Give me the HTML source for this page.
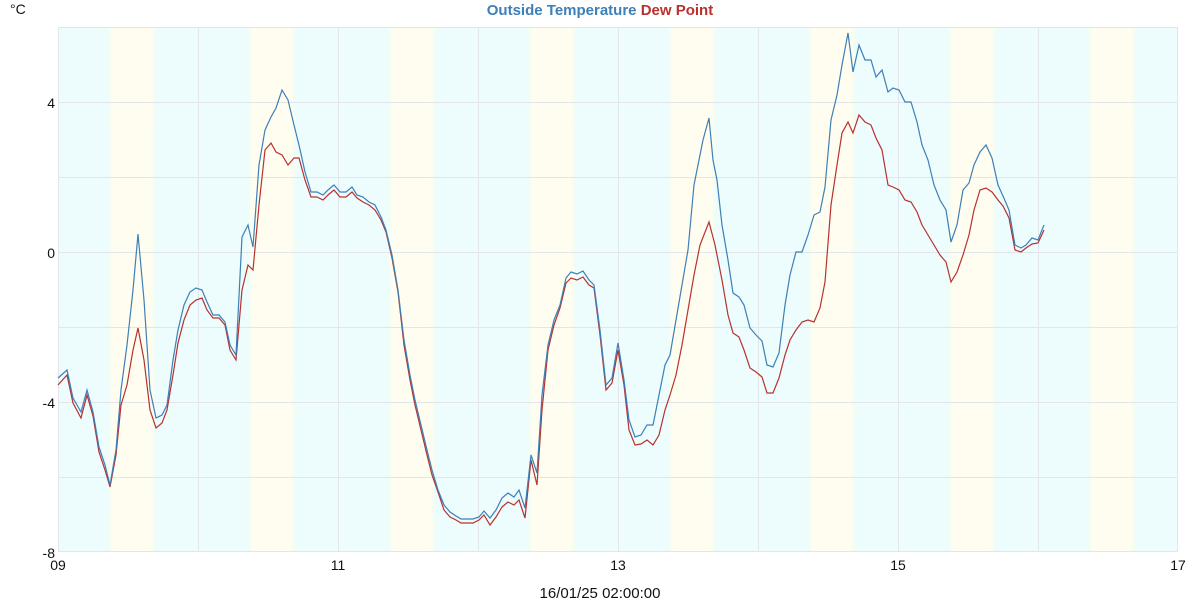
<!DOCTYPE html>
<html><head><meta charset="utf-8"><style>
body{margin:0;background:#fff;width:1200px;height:600px;overflow:hidden}
svg{display:block;font-family:"Liberation Sans",sans-serif}
</style></head><body>
<svg width="1200" height="600" viewBox="0 0 1200 600">
<defs>
<linearGradient id="yb" x1="0" x2="1" y1="0" y2="0">
<stop offset="0" stop-color="#effdf6"/><stop offset="0.12" stop-color="#fffdf0"/><stop offset="0.88" stop-color="#fffdf0"/><stop offset="1" stop-color="#effdf6"/>
</linearGradient>
</defs>
<rect x="58" y="27" width="1120" height="525" fill="#edfcfd"/>
<g fill="url(#yb)">
<rect x="108" y="27" width="48" height="525"/>
<rect x="248" y="27" width="48" height="525"/>
<rect x="388" y="27" width="48" height="525"/>
<rect x="528" y="27" width="48" height="525"/>
<rect x="668" y="27" width="48" height="525"/>
<rect x="808" y="27" width="48" height="525"/>
<rect x="948" y="27" width="48" height="525"/>
<rect x="1088" y="27" width="48" height="525"/>
</g>
<g stroke="#e2e5ea" stroke-width="1">
<line x1="58" x2="1178" y1="27.5" y2="27.5"/>
<line x1="58" x2="1178" y1="102.5" y2="102.5"/>
<line x1="58" x2="1178" y1="177.5" y2="177.5"/>
<line x1="58" x2="1178" y1="252.5" y2="252.5"/>
<line x1="58" x2="1178" y1="327.5" y2="327.5"/>
<line x1="58" x2="1178" y1="402.5" y2="402.5"/>
<line x1="58" x2="1178" y1="477.5" y2="477.5"/>
<line x1="58" x2="1178" y1="551.5" y2="551.5"/>
<line y1="27" y2="552" x1="58.5" x2="58.5"/>
<line y1="27" y2="552" x1="198.5" x2="198.5"/>
<line y1="27" y2="552" x1="338.5" x2="338.5"/>
<line y1="27" y2="552" x1="478.5" x2="478.5"/>
<line y1="27" y2="552" x1="618.5" x2="618.5"/>
<line y1="27" y2="552" x1="758.5" x2="758.5"/>
<line y1="27" y2="552" x1="898.5" x2="898.5"/>
<line y1="27" y2="552" x1="1038.5" x2="1038.5"/>
<line y1="27" y2="552" x1="1177.5" x2="1177.5"/>
</g>
<polyline fill="none" stroke="#b8312f" stroke-width="1.2" points="58,385 67,375 73,403 81,418 87,395 93,416 99,452 105,470 110,487 116,455 121,405 127,385 133,350 138,328 144,360 150,410 156,428 162,423 167,410 173,375 178,343 184,320 190,305 196,300 202,298 207,310 213,318 219,318 225,325 230,350 236,360 242,290 248,265 253,270 259,205 265,150 271,143 276,152 282,155 288,165 294,158 299,158 305,180 311,197 317,197 323,200 328,195 334,190 340,197 346,197 352,192 357,198 363,202 369,205 375,210 381,220 386,232 392,258 398,292 404,345 410,380 415,405 421,430 427,455 432,475 438,492 444,510 450,517 456,520 461,523 467,523 473,523 479,520 484,515 490,525 496,517 502,507 508,502 514,505 519,500 525,518 531,460 537,485 542,410 548,350 554,325 560,308 566,283 571,278 577,280 583,277 589,285 594,288 600,335 606,390 612,383 618,350 624,385 629,430 635,445 641,444 647,440 653,445 659,435 665,410 670,395 676,375 682,345 688,310 694,275 700,245 709,222 715,245 722,280 728,315 733,333 739,337 744,350 750,368 756,372 762,377 767,393 773,393 779,378 785,355 790,340 796,330 802,322 808,320 814,322 820,308 825,282 831,205 837,165 842,133 848,122 853,133 859,115 865,122 871,125 876,138 882,150 888,185 893,187 899,190 905,200 911,202 917,212 922,225 928,235 934,245 940,255 946,262 951,282 957,272 963,255 969,235 974,210 980,190 986,188 992,192 998,200 1003,206 1009,218 1015,250 1021,252 1026,248 1032,244 1038,243 1044,230"/>
<polyline fill="none" stroke="#3d7fb8" stroke-width="1.2" points="58,378 67,370 73,398 81,412 87,390 93,412 99,447 105,465 110,485 116,450 121,390 127,345 133,290 138,234 144,300 150,390 156,418 162,415 167,405 173,360 178,330 184,305 190,292 196,288 202,290 207,302 213,315 219,315 225,322 230,345 236,355 242,237 248,225 253,247 259,165 265,130 271,117 276,108 282,90 288,100 294,125 299,145 305,172 311,192 317,192 323,195 328,190 334,185 340,192 346,192 352,187 357,195 363,197 369,202 375,205 381,217 386,230 392,255 398,290 404,340 410,375 415,400 421,425 427,450 432,470 438,490 444,505 450,512 456,516 461,519 467,519 473,519 479,517 484,511 490,518 496,510 502,498 508,493 514,497 519,490 525,508 531,455 537,473 542,395 548,345 554,320 560,305 566,278 571,272 577,274 583,271 589,280 594,285 600,330 606,385 612,378 618,343 624,380 629,420 635,437 641,435 647,425 653,425 659,395 665,365 670,355 676,320 682,285 688,250 694,185 700,155 703,140 709,118 713,160 717,180 722,225 728,260 733,293 739,297 744,305 750,328 756,335 762,341 767,365 773,367 779,353 785,305 790,275 796,252 802,252 808,235 814,215 820,212 825,187 831,120 837,95 842,65 848,33 853,72 859,45 865,60 871,60 876,77 882,70 888,92 893,88 899,90 905,102 911,102 917,122 922,145 928,160 934,185 940,200 946,210 951,242 957,225 963,190 969,183 974,165 980,152 986,145 992,158 998,185 1003,196 1009,210 1015,245 1021,248 1026,245 1032,238 1038,240 1044,225"/>
<g font-size="14" fill="#111">
<text x="10" y="14">°C</text>
<text x="55" y="108" text-anchor="end">4</text>
<text x="55" y="258" text-anchor="end">0</text>
<text x="55" y="408" text-anchor="end">-4</text>
<text x="55" y="558" text-anchor="end">-8</text>
<text x="58" y="570" text-anchor="middle">09</text>
<text x="338" y="570" text-anchor="middle">11</text>
<text x="618" y="570" text-anchor="middle">13</text>
<text x="898" y="570" text-anchor="middle">15</text>
<text x="1178" y="570" text-anchor="middle">17</text>
<text x="600" y="598" text-anchor="middle" font-size="15">16/01/25 02:00:00</text>
</g>
<text x="600" y="15" text-anchor="middle" font-size="15" font-weight="bold"><tspan fill="#3d7fb8">Outside Temperature</tspan> <tspan fill="#b8312f">Dew Point</tspan></text>
</svg>
</body></html>
